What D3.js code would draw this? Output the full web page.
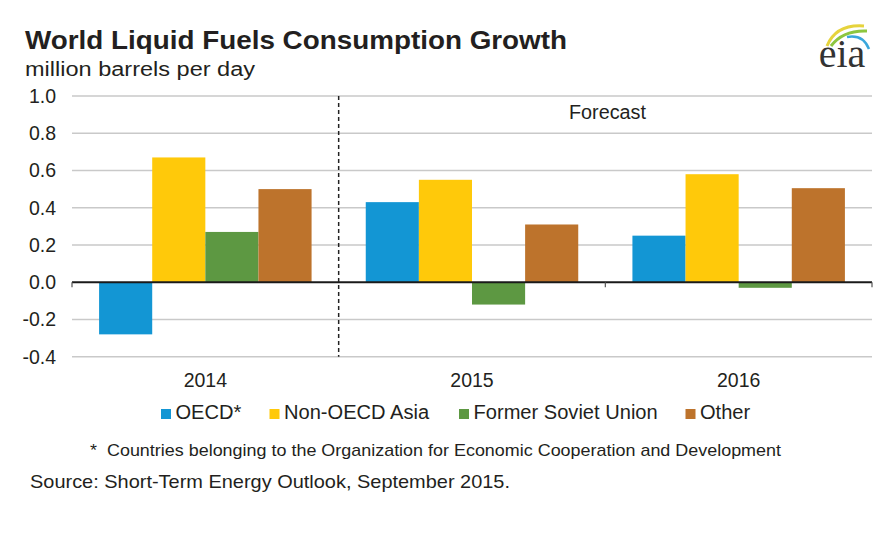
<!DOCTYPE html>
<html><head><meta charset="utf-8">
<script src="https://cdn.jsdelivr.net/npm/d3@7"></script>
<style>body{margin:0;background:#fff}svg{display:block;font-family:"Liberation Sans",Arial,sans-serif}</style>
</head><body>
<svg id="c" width="893" height="543"></svg>
<script>
const years = ["2014", "2015", "2016"];
const seriesNames = ["OECD*", "Non-OECD Asia", "Former Soviet Union", "Other"];
const seriesColors = ["#1396D4", "#FFC90A", "#5D9842", "#BD732C"];
const oecd = [-0.28, 0.43, 0.25];
const nonOecdAsia = [0.67, 0.55, 0.58];
const formerSovietUnion = [0.27, -0.12, -0.03];
const other = [0.50, 0.31, 0.505];
const yTicks = [-0.4, -0.2, 0.0, 0.2, 0.4, 0.6, 0.8, 1.0];

const values = [oecd, nonOecdAsia, formerSovietUnion, other];
const svg = d3.select("#c");
const txt = "#231F20";
const L = 72, R = 872, T = 96, B = 356.7;
const FS = 19.5;

function stretch(sel, k) {
  sel.each(function () {
    const len = this.getComputedTextLength();
    this.setAttribute("textLength", len * k);
    this.setAttribute("lengthAdjust", "spacingAndGlyphs");
  });
}
function fit(sel, w) {
  sel.attr("textLength", w).attr("lengthAdjust", "spacingAndGlyphs");
}

const x0 = d3.scaleBand().domain(years).range([L, R]).paddingInner(0).paddingOuter(0);
const x1 = d3.scaleBand().domain(seriesNames).range([0, x0.bandwidth()]).paddingInner(0).paddingOuter(0.51);
const y = d3.scaleLinear().domain([-0.4, 1.0]).range([B, T]);
const fmt = d => d3.format(".1f")(d).replace("\u2212", "-");

svg.append("g").selectAll("line").data(yTicks.filter(d => d !== 0)).join("line")
  .attr("x1", L).attr("x2", R).attr("y1", d => y(d)).attr("y2", d => y(d))
  .attr("stroke", "#c9c9c9").attr("stroke-width", 1.5);

svg.append("g").selectAll("text").data(yTicks).join("text")
  .attr("x", 56).attr("y", d => y(d) + 7).attr("text-anchor", "end")
  .attr("font-size", FS).attr("fill", txt).text(fmt);

const g = svg.append("g");
years.forEach((yr, i) => {
  g.append("g").selectAll("rect").data(seriesNames).join("rect")
    .attr("x", (s) => x0(yr) + x1(s))
    .attr("width", x1.bandwidth())
    .attr("y", (s, j) => y(Math.max(0, values[j][i])))
    .attr("height", (s, j) => Math.abs(y(values[j][i]) - y(0)))
    .attr("fill", (s, j) => seriesColors[j]);
});

svg.append("line").attr("x1", L).attr("x2", R).attr("y1", y(0)).attr("y2", y(0))
  .attr("stroke", "#1a1a1a").attr("stroke-width", 2);
const bounds = [L, x0("2015") + x0.bandwidth(), R];
svg.append("g").selectAll("line").data(bounds).join("line")
  .attr("x1", d => d).attr("x2", d => d).attr("y1", y(0)).attr("y2", y(0) + 5)
  .attr("stroke", "#555").attr("stroke-width", 1.2);

svg.append("line").attr("x1", x0("2015")).attr("x2", x0("2015")).attr("y1", T).attr("y2", B)
  .attr("stroke", "#222").attr("stroke-width", 1.5).attr("stroke-dasharray", "4,3");
svg.append("text").attr("x", 569).attr("y", 118.5)
  .attr("font-size", FS).attr("fill", txt).text("Forecast").call(fit, 77);

svg.append("g").selectAll("text").data(years).join("text")
  .attr("x", d => x0(d) + x0.bandwidth() / 2).attr("y", 386.7).attr("text-anchor", "middle")
  .attr("font-size", FS).attr("fill", txt).text(d => d);

const legX = [161, 269.5, 459, 685.5];
const lg = svg.append("g").selectAll("g").data(seriesNames).join("g")
  .attr("transform", (d, i) => `translate(${legX[i]},0)`);
lg.append("rect").attr("x", 0).attr("y", 409).attr("width", 10).attr("height", 10)
  .attr("fill", (d, i) => seriesColors[i]);
lg.append("text").attr("x", 14.5).attr("y", 418.5).attr("font-size", FS).attr("fill", txt).text(d => d)
  .call(stretch, 1.03);

svg.append("text").attr("x", 25).attr("y", 48.5).attr("font-size", 26).attr("font-weight", "bold")
  .attr("fill", txt).text("World Liquid Fuels Consumption Growth").call(fit, 542);
svg.append("text").attr("x", 25).attr("y", 76).attr("font-size", 20)
  .attr("fill", txt).text("million barrels per day").call(fit, 230);

svg.append("text").attr("x", 90).attr("y", 456).attr("font-size", 17)
  .attr("fill", txt).attr("xml:space", "preserve")
  .text("*  Countries belonging to the Organization for Economic Cooperation and Development").call(fit, 691);
svg.append("text").attr("x", 30).attr("y", 488.3).attr("font-size", 19)
  .attr("fill", txt).text("Source: Short-Term Energy Outlook, September 2015.").call(fit, 480);

const logo = svg.append("g");
logo.append("path").attr("d", "M827,46 Q836,24 864,26").attr("fill", "none").attr("stroke", "#E6D33C").attr("stroke-width", 3);
logo.append("path").attr("d", "M831,46 Q843,30 867,31").attr("fill", "none").attr("stroke", "#8DC63F").attr("stroke-width", 3);
logo.append("path").attr("d", "M847,37 Q863,34 869,49").attr("fill", "none").attr("stroke", "#3AA7DC").attr("stroke-width", 2.5);
logo.append("text").attr("x", 842).attr("y", 67).attr("text-anchor", "middle")
  .attr("font-family", "'Liberation Serif','DejaVu Serif',serif").attr("font-size", 40).attr("fill", "#333").text("eia");
</script>
</body></html>
